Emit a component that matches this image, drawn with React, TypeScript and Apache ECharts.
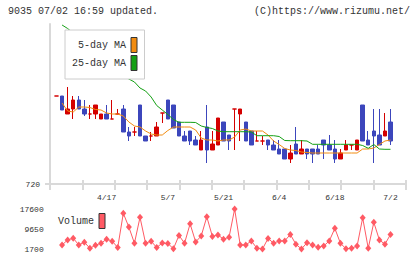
import { useEffect, useRef } from 'react';
import * as echarts from 'echarts';

// Trading days shown on the chart
const DATES = [
  '4/4', '4/5', '4/8', '4/9', '4/10', '4/11', '4/12', '4/15', '4/16', '4/17',
  '4/18', '4/19', '4/22', '4/23', '4/24', '4/25', '4/26', '4/30', '5/1', '5/2',
  '5/7', '5/8', '5/9', '5/10', '5/13', '5/14', '5/15', '5/16', '5/17', '5/20',
  '5/21', '5/22', '5/23', '5/24', '5/27', '5/28', '5/29', '5/30', '5/31', '6/3',
  '6/4', '6/5', '6/6', '6/7', '6/10', '6/11', '6/12', '6/13', '6/14', '6/17',
  '6/18', '6/19', '6/20', '6/21', '6/24', '6/25', '6/26', '6/27', '6/28', '7/1',
  '7/2',
];
const LABELED_DATES = ['4/17', '5/7', '5/21', '6/4', '6/18', '7/2'];

// Daily prices (yen)
const OPEN = [
  808, 808, 790, 795, 804, 795, 790, 790, 785, 790,
  785, 790, 795, 772, 772, 799, 768, 768, 768, 791,
  804, 799, 782, 768, 773, 764, 754, 777, 754, 759,
  782, 769, 795, 790, 782, 773, 763, 763, 764, 759,
  755, 755, 745, 760, 750, 755, 755, 755, 764, 759,
  755, 745, 754, 759, 754, 799, 764, 773, 769, 768,
  782,
];
const CLOSE = [
  808, 794, 795, 804, 795, 790, 790, 799, 790, 785,
  785, 790, 772, 768, 772, 768, 763, 768, 777, 791,
  785, 776, 768, 763, 763, 759, 764, 754, 760, 786,
  763, 763, 795, 795, 763, 759, 763, 763, 759, 754,
  750, 745, 751, 750, 755, 750, 750, 750, 759, 754,
  745, 751, 759, 759, 764, 763, 759, 768, 759, 773,
  763,
];
const LOW = [
  808, 794, 790, 785, 795, 788, 785, 785, 785, 785,
  785, 790, 772, 763, 768, 768, 763, 763, 768, 781,
  785, 776, 768, 763, 759, 759, 754, 741, 754, 759,
  763, 754, 754, 763, 763, 759, 763, 759, 754, 754,
  750, 745, 741, 750, 750, 745, 741, 750, 745, 754,
  741, 745, 754, 754, 754, 763, 759, 741, 759, 768,
  759,
];
const HIGH = [
  808, 808, 817, 808, 808, 804, 799, 799, 790, 799,
  804, 795, 799, 777, 777, 799, 768, 772, 782, 791,
  804, 799, 782, 773, 773, 768, 773, 799, 773, 786,
  782, 769, 795, 795, 782, 773, 773, 768, 764, 764,
  764, 755, 759, 777, 764, 755, 755, 759, 764, 769,
  764, 755, 764, 759, 764, 799, 773, 795, 795, 791,
  795,
];

// Moving averages (yen)
const MA5 = [
  null, 801, 793, 792, 797, 797, 796.5, 794.5, 794, 791,
  790, 790, 788, 782, 778, 777, 773, 770, 769, 769,
  773.5, 777, 777, 777, 777, 774, 766, 764, 764, 763,
  764, 764, 767, 774, 775, 773, 773, 773, 769, 763,
  759.5, 755.5, 754, 753.5, 752, 751.5, 751, 751, 751, 751,
  751, 751, 751, 751, 751, 755, 755, 756, 759.5, 763,
  764,
];
const MA25 = [
  null, 879, 875.5, 871, 866, 861, 857, 852, 848, 843,
  838.5, 834, 828.5, 825, 822, 816, 813, 807, 798.5, 794,
  789.5, 784.5, 781.7, 781.7, 781.7, 781.5, 778, 776.5, 775.5, 773,
  772.3, 772.3, 772.3, 772.3, 772.3, 772, 768.3, 768.3, 768.3, 768.3,
  767.5, 763.5, 763.3, 763.3, 763.3, 763, 759.7, 759.7, 759.7, 759.7,
  759.7, 759.7, 759.7, 759.7, 759.7, 758.5, 755.7, 759.5, 755, 754.7,
  754.7,
];

// Daily volume
const VOLUME = [
  null, 3300, 5300, 6000, 3300, 4400, 2000, 3200, 4000, 5600,
  4800, 2300, 15900, 10400, 4000, 14300, 4000, 4800, 2300, 4100,
  3900, 1800, 7100, 4000, 11700, 4500, 6900, 14500, 6700, 7300,
  5600, 6400, 17600, 3300, 3300, 4900, 2000, 1700, 5900, 4000,
  4900, 4900, 7500, 3600, 1700, 4200, 3300, 2400, 2900, 4900,
  9900, 4000, 1800, 2000, 2900, 14100, 2000, 12300, 5300, 3600,
  7500,
];

const PRICE_MIN = 720;
const PRICE_MAX = 880;
const VOLUME_TICKS = [1700, 9650, 17600];

const RED = '#d40000';
const BLUE = '#3c46bc';
const ORANGE = '#f28c10';
const GREEN = '#14a014';
const VOL = '#ff5a64';
const AXIS = '#d9d9d9';
const TEXT = '#333';
const FONT = '"Liberation Mono", "DejaVu Sans Mono", monospace';

export default function App() {
  const ref = useRef<HTMLDivElement>(null);

  useEffect(() => {
    if (!ref.current) return;
    const chart = echarts.init(ref.current, null, { renderer: 'svg' });
    const candles = DATES.map((_, i) => [OPEN[i], CLOSE[i], LOW[i], HIGH[i]]);
    const small = { fontFamily: FONT, fontSize: 8, color: TEXT };
    const axisLine = { color: AXIS, width: 2 };
    const plain = (v: number) => String(v);

    chart.setOption({
      animation: false,
      backgroundColor: '#fff',
      title: [
        {
          text: '9035 07/02 16:59 updated.',
          left: 8,
          top: 6,
          padding: 0,
          textStyle: { fontFamily: FONT, fontSize: 10, fontWeight: 'normal', color: TEXT },
        },
        {
          text: '(C)https://www.rizumu.net/',
          right: 10,
          top: 6,
          padding: 0,
          textStyle: { fontFamily: FONT, fontSize: 10, fontWeight: 'normal', color: TEXT },
        },
      ],
      legend: [
        {
          data: ['5-day MA', '25-day MA'],
          orient: 'vertical',
          align: 'right',
          left: 65,
          top: 30,
          padding: [7, 7, 8, 7],
          itemGap: 2,
          itemWidth: 6,
          itemHeight: 15,
          icon: 'rect',
          backgroundColor: '#fff',
          borderColor: '#ccc',
          borderWidth: 1,
          borderRadius: 0,
          selectedMode: false,
          textStyle: { fontFamily: FONT, fontSize: 10, color: TEXT },
          itemStyle: { borderColor: '#333', borderWidth: 1 },
        },
        {
          data: ['Volume'],
          orient: 'vertical',
          align: 'right',
          left: 58,
          top: 213,
          padding: 0,
          itemWidth: 6,
          itemHeight: 15,
          icon: 'rect',
          selectedMode: false,
          textStyle: { fontFamily: FONT, fontSize: 10, color: TEXT },
          itemStyle: { borderColor: '#333', borderWidth: 1 },
        },
      ],
      grid: [
        { left: 53.72, right: 26.7, top: 24, bottom: 75 },
        { left: 50, right: 14.3, top: 24, bottom: 75 },
        { left: 53.72, right: 26.7, top: 209, bottom: 10 },
      ],
      xAxis: [
        {
          type: 'category',
          gridIndex: 0,
          data: DATES,
          boundaryGap: true,
          axisLine: { show: false, onZero: false },
          axisTick: { show: false },
          splitLine: { show: false },
          axisLabel: {
            ...small,
            margin: 9,
            interval: (_i: number, v: string) => LABELED_DATES.includes(v),
          },
        },
        {
          type: 'value',
          gridIndex: 1,
          min: 0,
          max: 11,
          interval: 1,
          position: 'bottom',
          axisLine: { show: true, onZero: false, lineStyle: axisLine },
          axisTick: { show: true, length: 6, lineStyle: axisLine },
          axisLabel: { show: false },
          splitLine: { show: false },
        },
        {
          type: 'value',
          gridIndex: 1,
          min: 0,
          max: 11,
          interval: 1,
          position: 'bottom',
          axisLine: { show: false, onZero: false },
          axisTick: { show: true, inside: true, length: 4, lineStyle: axisLine },
          axisLabel: { show: false },
          splitLine: { show: false },
        },
        {
          type: 'category',
          gridIndex: 2,
          data: DATES,
          boundaryGap: true,
          show: false,
        },
      ],
      yAxis: [
        { type: 'value', gridIndex: 0, min: PRICE_MIN, max: PRICE_MAX, show: false },
        {
          type: 'value',
          gridIndex: 1,
          min: PRICE_MIN,
          max: PRICE_MAX,
          interval: PRICE_MAX - PRICE_MIN,
          axisLine: { show: true, lineStyle: axisLine },
          axisTick: { show: true, length: 5, customValues: [PRICE_MIN], lineStyle: axisLine },
          axisLabel: { ...small, margin: 10, customValues: [PRICE_MIN], formatter: plain },
          splitLine: { show: false },
        },
        {
          type: 'value',
          gridIndex: 2,
          min: VOLUME_TICKS[0],
          max: VOLUME_TICKS[2],
          interval: VOLUME_TICKS[1] - VOLUME_TICKS[0],
          axisLine: { show: false },
          axisTick: { show: false },
          splitLine: { show: false },
          axisLabel: { ...small, margin: 10, customValues: VOLUME_TICKS, formatter: plain },
        },
      ],
      series: [
        {
          type: 'candlestick',
          name: 'price',
          xAxisIndex: 0,
          yAxisIndex: 0,
          data: candles,
          barWidth: 4,
          itemStyle: {
            color: RED,
            color0: BLUE,
            borderColor: RED,
            borderColor0: BLUE,
            borderColorDoji: RED,
            borderWidth: 1,
          },
        },
        {
          type: 'line',
          name: '5-day MA',
          xAxisIndex: 0,
          yAxisIndex: 0,
          data: MA5,
          symbol: 'none',
          lineStyle: { color: ORANGE, width: 1 },
          itemStyle: { color: ORANGE },
        },
        {
          type: 'line',
          name: '25-day MA',
          xAxisIndex: 0,
          yAxisIndex: 0,
          data: MA25,
          symbol: 'none',
          lineStyle: { color: GREEN, width: 1 },
          itemStyle: { color: GREEN },
        },
        {
          type: 'line',
          name: 'Volume',
          xAxisIndex: 3,
          yAxisIndex: 2,
          data: VOLUME,
          symbol: 'diamond',
          symbolSize: [6, 7],
          showAllSymbol: true,
          lineStyle: { color: VOL, width: 1 },
          itemStyle: { color: VOL },
        },
      ],
    });

    return () => chart.dispose();
  }, []);

  return (
    <div
      ref={ref}
      style={{ position: 'fixed', left: 0, top: 0, width: 420, height: 259, background: '#fff' }}
    />
  );
}
